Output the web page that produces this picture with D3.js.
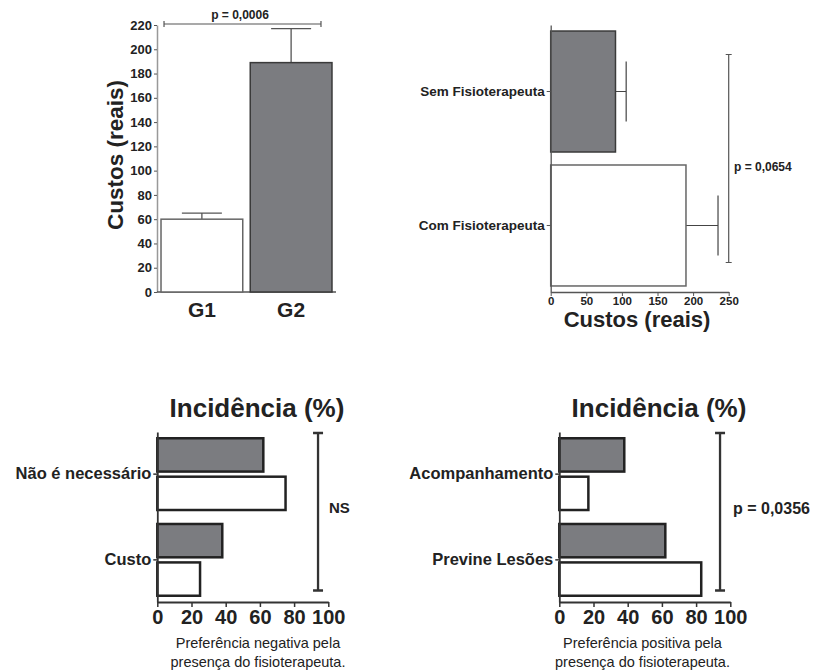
<!DOCTYPE html>
<html>
<head>
<meta charset="utf-8">
<script src="https://cdn.jsdelivr.net/npm/d3@7"></script>
<style>
  html, body { margin: 0; padding: 0; background: #fff; }
  svg text { font-family: Arial, "Liberation Sans", Helvetica, sans-serif; fill: #222; }
</style>
</head>
<body>
<svg id="chart" width="814" height="671"></svg>
<script>
// top-left: costs per group
const groups = ["G1", "G2"];
const groupMeans = [60, 189];
const groupErr = [5, 28];
const groupTicks = d3.range(0, 221, 20);

// top-right: costs with / without physio
const fisioCats = ["Sem Fisioterapeuta", "Com Fisioterapeuta"];
const fisioMeans = [91, 190];
const fisioErr = [15, 45];
const fisioTicks = [0, 50, 100, 150, 200, 250];

// bottom: incidence (%), gray series first then white
const negCats = ["Não é necessário", "Custo"];
const negGray = [62, 38];
const negWhite = [75, 25];
const posCats = ["Acompanhamento", "Previne Lesões"];
const posGray = [38, 62];
const posWhite = [17, 83];
const pctTicks = [0, 20, 40, 60, 80, 100];

const GRAY = "#7b7c80";
const svg = d3.select("#chart");

// ---------- top-left ----------
{
  const g = svg.append("g");
  const y = d3.scaleLinear().domain([0, 220]).range([292, 25]);
  const x = d3.scaleBand().domain(groups).range([157, 336]).paddingInner(0.084).paddingOuter(0.045);

  const yAxis = g.append("g")
    .attr("transform", "translate(157,0)")
    .call(d3.axisLeft(y).tickValues(groupTicks).tickSize(3).tickSizeOuter(0).tickPadding(2));
  yAxis.select(".domain").attr("stroke", "#999").attr("stroke-width", 1.5);
  yAxis.selectAll(".tick line").attr("stroke", "#555");
  yAxis.selectAll("text").style("font-size", "13px").style("font-weight", "bold").attr("fill", "#222");

  g.append("line").attr("x1", 157).attr("x2", 336).attr("y1", 292).attr("y2", 292)
    .attr("stroke", "#555").attr("stroke-width", 1.5);

  const data = groups.map((k, i) => ({ k, v: groupMeans[i], e: groupErr[i] }));

  // error bars
  g.selectAll(".err").data(data).enter().append("path")
    .attr("d", d => {
      const cx = x(d.k) + x.bandwidth() / 2;
      return `M${cx},${y(d.v)}V${y(d.v + d.e)}M${cx - 20},${y(d.v + d.e)}H${cx + 20}`;
    })
    .attr("stroke", "#555").attr("stroke-width", 1.3).attr("fill", "none");

  g.selectAll(".bar").data(data).enter().append("rect")
    .attr("x", d => x(d.k)).attr("width", x.bandwidth())
    .attr("y", d => y(d.v)).attr("height", d => y(0) - y(d.v))
    .attr("fill", (d, i) => i === 0 ? "#fff" : GRAY)
    .attr("stroke", (d, i) => i === 0 ? "#666" : "#3a3a3a")
    .attr("stroke-width", 1.5);

  g.selectAll(".xl").data(groups).enter().append("text")
    .attr("x", d => x(d) + x.bandwidth() / 2).attr("y", 316.5)
    .attr("text-anchor", "middle").style("font-size", "21px").style("font-weight", "bold")
    .text(d => d);

  g.append("text")
    .attr("transform", "translate(123,155) rotate(-90)")
    .attr("text-anchor", "middle").style("font-size", "22.5px").style("font-weight", "bold")
    .text("Custos (reais)");

  // significance bracket
  const bx0 = x("G1") + 3, bx1 = x("G2") + x.bandwidth() - 11;
  g.append("path")
    .attr("d", `M${bx0},${21}V${27}M${bx0},24H${bx1}M${bx1},21V27`)
    .attr("stroke", "#555").attr("stroke-width", 1.2).attr("fill", "none");
  g.append("text").attr("x", 240).attr("y", 19).attr("text-anchor", "middle")
    .style("font-size", "12px").style("font-weight", "bold").text("p = 0,0006");
}

// ---------- top-right ----------
{
  const g = svg.append("g");
  const x = d3.scaleLinear().domain([0, 250]).range([550.7, 728.7]);
  const y = d3.scaleBand().domain(fisioCats).range([25, 292]).paddingInner(0.097).paddingOuter(0.045);

  const data = fisioCats.map((k, i) => ({ k, v: fisioMeans[i], e: fisioErr[i] }));

  g.selectAll(".err").data(data).enter().append("path")
    .attr("d", d => {
      const cy = y(d.k) + y.bandwidth() / 2;
      return `M${x(d.v)},${cy}H${x(d.v + d.e)}M${x(d.v + d.e)},${cy - 30}V${cy + 30}`;
    })
    .attr("stroke", "#444").attr("stroke-width", 1.2).attr("fill", "none");

  g.selectAll(".bar").data(data).enter().append("rect")
    .attr("x", x(0)).attr("width", d => x(d.v) - x(0))
    .attr("y", d => y(d.k)).attr("height", y.bandwidth())
    .attr("fill", (d, i) => i === 0 ? GRAY : "#fff")
    .attr("stroke", (d, i) => i === 0 ? "#3a3a3a" : "#666")
    .attr("stroke-width", 1.5);

  const xAxis = g.append("g")
    .attr("transform", "translate(0,292)")
    .call(d3.axisBottom(x).tickValues(fisioTicks).tickSize(4).tickSizeOuter(0).tickPadding(1));
  xAxis.select(".domain").attr("stroke", "#555").attr("stroke-width", 1.3);
  xAxis.selectAll(".tick line").attr("stroke", "#555");
  xAxis.selectAll("text").style("font-size", "11.5px").style("font-weight", "bold").attr("fill", "#222");

  const yAxis = g.append("g")
    .attr("transform", `translate(${x(0)},0)`)
    .call(d3.axisLeft(y).tickSize(4).tickSizeOuter(0).tickPadding(2));
  yAxis.select(".domain").attr("stroke", "#555").attr("stroke-width", 1.3);
  yAxis.selectAll(".tick line").attr("stroke", "#555");
  yAxis.selectAll("text").style("font-size", "13.5px").style("font-weight", "bold").attr("fill", "#222");

  g.append("text").attr("x", 637).attr("y", 327).attr("text-anchor", "middle")
    .style("font-size", "22px").style("font-weight", "bold").text("Custos (reais)");

  const top = y(fisioCats[0]) + y.bandwidth() / 2 - 37;
  const bot = y(fisioCats[1]) + y.bandwidth() / 2 + 37;
  const bx = x(250);
  g.append("path")
    .attr("d", `M${bx - 3},${top}H${bx + 3}M${bx},${top}V${bot}M${bx - 3},${bot}H${bx + 3}`)
    .attr("stroke", "#555").attr("stroke-width", 1.2).attr("fill", "none");
  g.append("text").attr("x", 734).attr("y", 171)
    .style("font-size", "12px").style("font-weight", "bold").text("p = 0,0654");
}

// ---------- bottom charts ----------
function incidence(opts) {
  const g = svg.append("g");
  const x = d3.scaleLinear().domain([0, 100]).range([opts.x0, opts.x0 + 171]);
  const y = d3.scaleBand().domain(opts.cats).range([432, 602]).paddingInner(0.163).paddingOuter(0.073);
  const inner = d3.scaleBand().domain(["gray", "white"]).range([0, y.bandwidth()]).paddingInner(0.133);

  const rows = [];
  opts.cats.forEach((c, i) => {
    rows.push({ c, s: "gray", v: opts.gray[i] });
    rows.push({ c, s: "white", v: opts.white[i] });
  });

  g.selectAll(".bar").data(rows).enter().append("rect")
    .attr("x", x(0)).attr("width", d => x(d.v) - x(0))
    .attr("y", d => y(d.c) + inner(d.s)).attr("height", inner.bandwidth())
    .attr("fill", d => d.s === "gray" ? GRAY : "#fff")
    .attr("stroke", "#222").attr("stroke-width", 2.5);

  const xAxis = g.append("g")
    .attr("transform", "translate(0,602)")
    .call(d3.axisBottom(x).tickValues(pctTicks).tickSize(5).tickSizeOuter(0).tickPadding(3));
  xAxis.select(".domain").attr("stroke", "#333").attr("stroke-width", 1.8);
  xAxis.selectAll(".tick line").attr("stroke", "#333").attr("stroke-width", 1.5);
  xAxis.selectAll("text").style("font-size", "20px").style("font-weight", "bold").attr("fill", "#222");

  const yAxis = g.append("g")
    .attr("transform", `translate(${x(0)},0)`)
    .call(d3.axisLeft(y).tickSize(4).tickSizeOuter(0).tickPadding(2));
  yAxis.select(".domain").attr("stroke", "#333").attr("stroke-width", 1.8);
  yAxis.selectAll(".tick line").attr("stroke", "#333").attr("stroke-width", 1.5);
  yAxis.selectAll("text").style("font-size", "16.5px").style("font-weight", "bold").attr("fill", "#222");

  g.append("text").attr("x", opts.titleX).attr("y", 417).attr("text-anchor", "middle")
    .style("font-size", "26px").style("font-weight", "bold").text("Incidência (%)");

  const cap = g.append("text").attr("text-anchor", "middle")
    .style("font-size", "14.5px").attr("fill", "#333");
  cap.append("tspan").attr("x", opts.capX).attr("y", 648).text(opts.caption[0]);
  cap.append("tspan").attr("x", opts.capX).attr("y", 667).text(opts.caption[1]);

  const bx = x(94), top = 433, bot = 590.5;
  g.append("path")
    .attr("d", `M${bx - 5},${top}H${bx + 5}M${bx},${top}V${bot}M${bx - 5},${bot}H${bx + 5}`)
    .attr("stroke", "#333").attr("stroke-width", 2.3).attr("fill", "none");
  g.append("text").attr("x", opts.sigX).attr("y", 508).attr("dy", "0.35em")
    .style("font-size", opts.sigSize).style("font-weight", "bold").text(opts.sig);
}

incidence({
  x0: 157.3, cats: negCats, gray: negGray, white: negWhite,
  titleX: 257, capX: 258,
  caption: ["Preferência negativa pela", "presença do fisioterapeuta."],
  sig: "NS", sigX: 329, sigSize: "15px"
});
incidence({
  x0: 559.3, cats: posCats, gray: posGray, white: posWhite,
  titleX: 659, capX: 642.5,
  caption: ["Preferência positiva pela", "presença do fisioterapeuta."],
  sig: "p = 0,0356", sigX: 733, sigSize: "16px"
});
</script>
</body>
</html>
